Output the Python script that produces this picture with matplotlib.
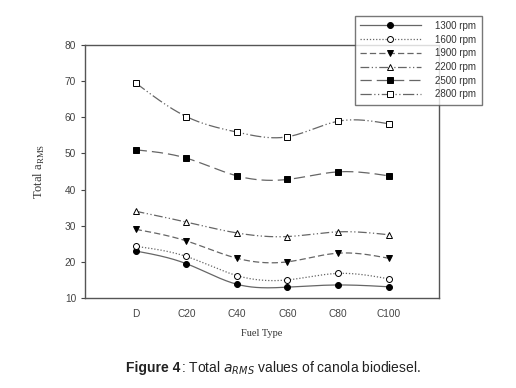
import numpy as np
import matplotlib
matplotlib.use("Agg")
import matplotlib.pyplot as plt
from matplotlib.lines import Line2D

# data
fuels = ["D", "C20", "C40", "C60", "C80", "C100"]
rpm_labels = ["1300 rpm", "1600 rpm", "1900 rpm", "2200 rpm", "2500 rpm", "2800 rpm"]
rpm1300 = [23.0, 19.5, 13.8, 13.0, 13.6, 13.1]
rpm1600 = [24.3, 21.5, 16.2, 15.0, 16.8, 15.3]
rpm1900 = [29.0, 25.8, 21.0, 20.0, 22.4, 21.0]
rpm2200 = [34.0, 31.0, 28.0, 27.0, 28.3, 27.5]
rpm2500 = [51.0, 48.7, 43.8, 42.8, 44.9, 43.8]
rpm2800 = [69.5, 60.2, 55.9, 54.6, 58.9, 58.2]
y_ticks = [10, 20, 30, 40, 50, 60, 70, 80]

series = [rpm1300, rpm1600, rpm1900, rpm2200, rpm2500, rpm2800]
markers = ["o", "o", "v", "^", "s", "s"]
fills = ["black", "white", "black", "white", "black", "white"]
styles = ["-", (0, (1, 1.5)), (0, (5, 2.5)), (0, (7, 2, 1, 2, 1, 2)),
          (0, (9, 4)), (0, (9, 2, 1, 2, 1, 2))]

line_col = "#666666"
tick_col = "#444444"


def smooth(x, y, n=200):
    # natural cubic spline through the points, only used for drawing the curve
    x = np.asarray(x, float)
    y = np.asarray(y, float)
    m = len(x)
    h = np.diff(x)
    A = np.zeros((m, m))
    b = np.zeros(m)
    A[0, 0] = A[-1, -1] = 1
    for i in range(1, m - 1):
        A[i, i - 1] = h[i - 1]
        A[i, i] = 2 * (h[i - 1] + h[i])
        A[i, i + 1] = h[i]
        b[i] = 3 * ((y[i + 1] - y[i]) / h[i] - (y[i] - y[i - 1]) / h[i - 1])
    c = np.linalg.solve(A, b)
    xs = np.linspace(x[0], x[-1], n)
    idx = np.clip(np.searchsorted(x, xs) - 1, 0, m - 2)
    dx = xs - x[idx]
    bb = (y[idx + 1] - y[idx]) / h[idx] - h[idx] * (2 * c[idx] + c[idx + 1]) / 3
    dd = (c[idx + 1] - c[idx]) / (3 * h[idx])
    ys = y[idx] + bb * dx + c[idx] * dx ** 2 + dd * dx ** 3
    return xs, ys


fig = plt.figure(figsize=(5.16, 3.88), dpi=100)
ax = fig.add_axes([0.165, 0.232, 0.686, 0.652])

xpos = np.arange(1, len(fuels) + 1)
handles = []
for vals, mk, fc, ls, lab in zip(series, markers, fills, styles, rpm_labels):
    xs, ys = smooth(xpos, vals)
    ax.plot(xs, ys, color=line_col, lw=0.9, ls=ls)
    ax.plot(xpos, vals, ls="none", marker=mk, ms=4.3, mfc=fc, mec="black", mew=0.7)
    handles.append(Line2D([], [], color=line_col, lw=0.9, ls=ls, marker=mk,
                          ms=4.3, mfc=fc, mec="black", mew=0.7, label=lab))

ax.set_xlim(0, 7)
ax.set_ylim(10, 80)
ax.set_xticks(xpos)
ax.set_xticklabels(fuels)
ax.set_yticks(y_ticks)
ax.tick_params(axis="x", length=0, pad=8)
ax.tick_params(axis="y", length=3, color=tick_col, direction="out")
for lbl in ax.get_xticklabels() + ax.get_yticklabels():
    lbl.set_fontfamily("Liberation Sans")
    lbl.set_fontsize(7.3)
    lbl.set_color(tick_col)
for sp in ax.spines.values():
    sp.set_color("#555555")
    sp.set_linewidth(1.0)

ax.set_xlabel("Fuel Type", family="Liberation Serif", fontsize=7.5,
              color="#333333", labelpad=7)
ax.set_ylabel(r"Total a$_{\mathregular{RMS}}$", family="Liberation Serif",
              fontsize=9, color="#333333", labelpad=13)

leg = fig.legend(handles=handles, loc="upper left", bbox_to_anchor=(0.688, 0.96),
                 prop={"family": "Liberation Sans", "size": 7}, frameon=True,
                 fancybox=False, handlelength=6.2, handletextpad=1.5,
                 labelspacing=0.38, borderpad=0.55, borderaxespad=0)
leg.get_frame().set_edgecolor("#555555")
leg.get_frame().set_linewidth(1.0)
for t in leg.get_texts():
    t.set_color("#333333")

# caption: bold lead-in followed by the rest of the sentence
cap_y = 0.04
cap1 = fig.text(0.245, cap_y, "Figure 4", ha="left", va="baseline", fontsize=10,
                weight="bold", family="Liberation Sans", color="#222222")
fig.canvas.draw()
bb = cap1.get_window_extent(fig.canvas.get_renderer())
x_next = bb.x1 / fig.bbox.width
fig.text(x_next, cap_y, r": Total $\mathit{a}_{\mathit{RMS}}$ values of canola biodiesel.",
         ha="left", va="baseline", fontsize=10, family="Liberation Sans",
         color="#222222", math_fontfamily="dejavusans")

fig.savefig("out.png", dpi=100)
